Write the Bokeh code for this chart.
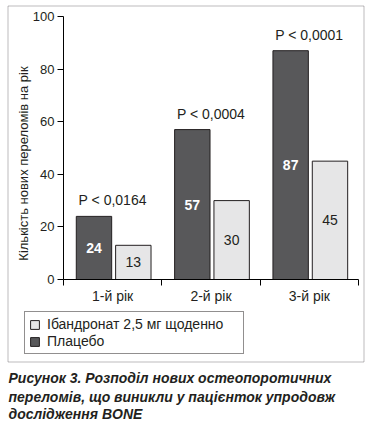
import math
from bokeh.plotting import figure
from bokeh.models import (Range1d, FixedTicker, LinearAxis, Label, BoxAnnotation,
                          Legend, LegendItem, ColumnDataSource)
from bokeh.transform import dodge
from bokeh.embed import file_html
from bokeh.resources import INLINE
from bokeh.core.properties import value

# ---- data ----
years = ["1-й рік", "2-й рік", "3-й рік"]
placebo = [24, 57, 87]
ibandronate = [13, 30, 45]
pvals = ["P < 0,0164", "P < 0,0004", "P < 0,0001"]
y_ticks = [0, 20, 40, 60, 80, 100]
series_names = ["Ібандронат 2,5 мг щоденно", "Плацебо"]
y_title = "Кількість нових переломів на рік"
caption_lines = ["Рисунок 3. Розподіл нових остеопоротичних",
                 "переломів, що виникли у пацієнток упродовж",
                 "дослідження BONE"]

FONT = "Liberation Sans"
TXT = "#231f20"
DARK = "#58585a"
LIGHT = "#e6e6e7"

W, H = 372, 426
# plot-area geometry in canvas pixels
FL, FR, FT, FB = 63, 358, 16, 279
ncat = len(years)
ymax = y_ticks[-1]
pxx = (FR - FL) / ncat
pxy = (FB - FT) / ymax
x_range = Range1d(-FL / pxx, ncat + (W - FR) / pxx)
y_range = Range1d(-(H - FB) / pxy, ymax + FT / pxy)

xc = [i + 0.5 for i in range(ncat)]
src = ColumnDataSource(dict(
    x=xc, placebo=placebo, iband=ibandronate,
    placebo_mid=[v / 2 for v in placebo], iband_mid=[v / 2 for v in ibandronate],
    placebo_txt=[str(v) for v in placebo], iband_txt=[str(v) for v in ibandronate],
    top=[max(a, b) for a, b in zip(placebo, ibandronate)], pv=pvals,
))

p = figure(width=W, height=H, x_range=x_range, y_range=y_range,
           output_backend="svg", toolbar_location=None,
           min_border=0, x_axis_type=None, y_axis_type=None)
p.outline_line_color = None
p.background_fill_color = "white"
p.border_fill_color = "white"

yax = LinearAxis(ticker=FixedTicker(ticks=y_ticks), fixed_location=0, bounds=(0, ymax),
                 major_tick_in=0, major_tick_out=6,
                 minor_tick_line_color=None, major_label_standoff=3,
                 axis_line_color="black", major_tick_line_color="black",
                 major_label_text_font=FONT, major_label_text_font_size="13px",
                 major_label_text_color=TXT)
p.add_layout(yax, "left")

xax = LinearAxis(ticker=FixedTicker(ticks=xc, minor_ticks=list(range(ncat + 1))),
                 fixed_location=0, bounds=(0, ncat),
                 major_tick_line_color=None, major_tick_in=0, major_tick_out=6,
                 minor_tick_in=0, minor_tick_out=6, minor_tick_line_color="black",
                 axis_line_color="black", major_label_standoff=2,
                 major_label_overrides={x: y for x, y in zip(xc, years)},
                 major_label_text_font=FONT, major_label_text_font_size="14px",
                 major_label_text_color=TXT)
p.add_layout(xax, "below")

r_dark = p.vbar(x=dodge('x', -0.19, range=p.x_range), top='placebo', width=0.36, source=src,
                fill_color=DARK, line_color=TXT, line_width=1)
r_light = p.vbar(x=dodge('x', 0.21, range=p.x_range), top='iband', width=0.36, source=src,
                 fill_color=LIGHT, line_color=TXT, line_width=1)

p.text(x=dodge('x', -0.19, range=p.x_range), y='placebo_mid', text='placebo_txt', source=src,
       text_font=value(FONT), text_font_size="14px", text_font_style="bold",
       text_color="white", text_align="center", text_baseline="middle")
p.text(x=dodge('x', 0.21, range=p.x_range), y='iband_mid', text='iband_txt', source=src,
       text_font=value(FONT), text_font_size="14px",
       text_color=TXT, text_align="center", text_baseline="middle")
p.text(x='x', y='top', text='pv', source=src, y_offset=-16,
       text_font=value(FONT), text_font_size="14px",
       text_color=TXT, text_align="center", text_baseline="middle")

p.add_layout(Label(x=23, y=H - 163, x_units="screen", y_units="screen", text=y_title,
                   angle=math.pi / 2, text_align="center", text_baseline="middle",
                   text_font=FONT, text_font_size="13px", text_color=TXT))

for line, yy in zip(caption_lines, [377, 396, 413]):
    p.add_layout(Label(x=8, y=H - yy, x_units="screen", y_units="screen", text=line,
                       text_align="left", text_baseline="middle",
                       text_font=FONT, text_font_size="14px", text_font_style="bold italic",
                       text_color=TXT))

p.add_layout(BoxAnnotation(left=7.5, right=363.5, top=5.5, bottom=361.5,
                           left_units="canvas", right_units="canvas",
                           top_units="canvas", bottom_units="canvas",
                           fill_alpha=0, line_color=TXT, line_width=1))

legend = Legend(items=[LegendItem(label=series_names[0], renderers=[r_light]),
                       LegendItem(label=series_names[1], renderers=[r_dark])],
                location=(24, H - 354), border_line_color=TXT, border_line_width=1,
                padding=4, spacing=1, margin=0, glyph_width=11, glyph_height=11,
                label_standoff=7, label_width=192,
                label_text_font=FONT, label_text_font_size="14px",
                label_text_color=TXT, background_fill_alpha=1)
p.add_layout(legend, "center")

open("out.html", "w").write(file_html(p, INLINE))
